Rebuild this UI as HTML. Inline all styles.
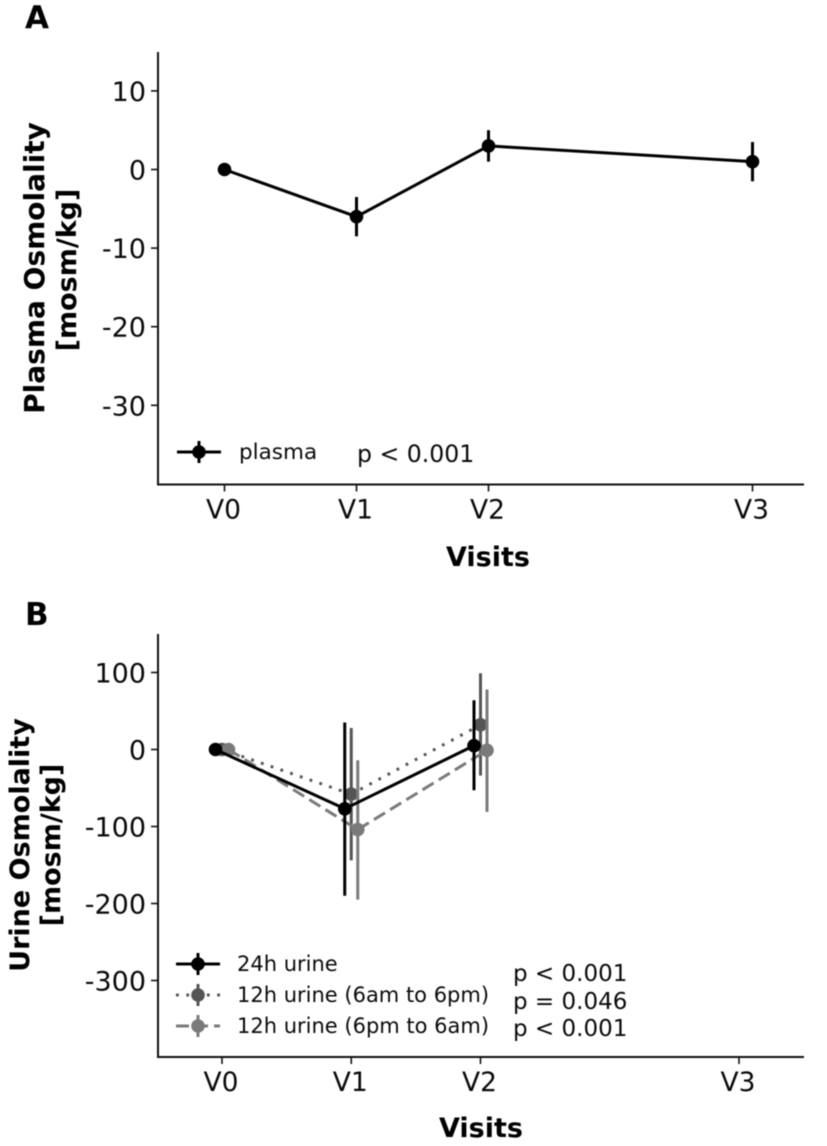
<!DOCTYPE html>
<html>
<head>
<meta charset="utf-8">
<style>
html,body{margin:0;padding:0;background:#fff;width:827px;height:1146px;overflow:hidden}
svg{display:block;filter:blur(0.5px)}
text{font-family:"DejaVu Sans",sans-serif;fill:#0a0a0a}
.b{font-weight:bold;fill:#000}
</style>
</head>
<body>
<svg id="fig" width="827" height="1146" viewBox="0 0 827 1146" xmlns="http://www.w3.org/2000/svg"></svg>
<script>
const visitLabels = ['V0','V1','V2','V3'];
const visitPositions = [0,1,2,4];

const plasmaTicks = [10,0,-10,-20,-30];
const plasmaVisits = [0,1,2,3];
const plasmaMean = [0,-6,3,1];
const plasmaLow = [0,-8.5,1,-1.5];
const plasmaHigh = [0,-3.5,5,3.5];

const urineTicks = [100,0,-100,-200,-300];
const urineVisits = [0,1,2];
const urine24Mean = [0,-77,5];
const urine24Low = [0,-190,-53];
const urine24High = [0,35,64];
const urineDayMean = [0,-58,32];
const urineDayLow = [0,-144,-34];
const urineDayHigh = [0,28,99];
const urineNightMean = [0,-104,-1];
const urineNightLow = [0,-195,-81];
const urineNightHigh = [0,-14,78];

const svg = document.getElementById('fig');
const NS = 'http://www.w3.org/2000/svg';
function mk(tag, attrs, txt){
  const e = document.createElementNS(NS, tag);
  for(const k in attrs) e.setAttribute(k, attrs[k]);
  if(txt !== undefined) e.textContent = txt;
  svg.appendChild(e);
  return e;
}
function line(x1,y1,x2,y2,color,w,name,dash){
  const a = {x1,y1,x2,y2,stroke:color,'stroke-width':w};
  if(dash) a['stroke-dasharray'] = dash;
  const e = mk('line', a);
  
  
  return e;
}
function label(x,y,s,size,name,opts){
  const e = mk('text', Object.assign({x,y,'font-size':size}, opts||{}), s);
  
  
  return e;
}

function drawAxes(p, prefix){
  line(p.left,p.top,p.left,p.bottom+1,'#111',2,prefix+'-y-axis');
  line(p.left-1,p.bottom,p.right,p.bottom,'#111',2,prefix+'-x-axis');
  p.yTicks.forEach(t=>{
    const y = p.sy(t);
    line(p.left-7,y,p.left,y,'#111',1.6,prefix+'-y-tick');
    label(p.left-12,y+10,String(t),27,prefix+'-y-tick-label',{'text-anchor':'end'});
  });
  visitLabels.forEach((v,i)=>{
    const x = p.sx(visitPositions[i]);
    line(x,p.bottom,x,p.bottom+7,'#111',1.6,prefix+'-x-tick');
    label(x-1,p.bottom+34,v,26.5,prefix+'-x-tick-label',{'text-anchor':'middle'});
  });
}
function drawSeries(p, visits, mean, low, high, offset, color, dash, name){
  const px = i => p.sx(visitPositions[visits[i]]) + offset;
  for(let i=0;i<visits.length-1;i++){
    line(px(i),p.sy(mean[i]),px(i+1),p.sy(mean[i+1]),color,3,name+'-line',dash);
  }
  visits.forEach((v,i)=>{
    if(low[i] !== high[i]) line(px(i),p.sy(low[i]),px(i),p.sy(high[i]),color,3,name+'-error-bar');
  });
  visits.forEach((v,i)=>{
    const c = mk('circle',{cx:px(i),cy:p.sy(mean[i]),r:6.8,fill:color});
    
    
  });
}
function legendEntry(x0,x1,y,color,dash,s,size,tx,name){
  line(x0,y,x1,y,color,3,name+'-line',dash);
  const cx=(x0+x1)/2;
  line(cx,y-11,cx,y+11,color,3,name+'-error');
  const c = mk('circle',{cx,cy:y,r:6.8,fill:color});
  
  
  label(tx,y+7,s,size,name+'-label');
}

/* Panel A */
const A = {left:158,right:804,top:52,bottom:484.5,yTicks:plasmaTicks,
  sx:v=>224.5+132*v, sy:d=>169.5-7.86*d};
label(25,28,'A',31,'panel-a-label',{class:'b'});
drawAxes(A,'plasma');
drawSeries(A,plasmaVisits,plasmaMean,plasmaLow,plasmaHigh,0,'#000',null,'plasma');
legendEntry(177,221,452,'#000',null,'plasma',21.5,239,'legend-plasma');
label(357,462,'p < 0.001',23.6,'plasma-p-value');
label(488,566,'Visits',27,'plasma-x-axis-title',{class:'b','text-anchor':'middle'});
label(0,0,'Plasma Osmolality',28,'plasma-y-axis-title',{class:'b','text-anchor':'middle',transform:'translate(44,268) rotate(-90)'});
label(0,0,'[mosm/kg]',27,'plasma-y-axis-unit',{class:'b','text-anchor':'middle',transform:'translate(76,270) rotate(-90)'});

/* Panel B */
const B = {left:158,right:804,top:634,bottom:1057,yTicks:urineTicks,
  sx:v=>222+129.25*v, sy:d=>749.5-0.77*d};
label(25,625,'B',31,'panel-b-label',{class:'b'});
drawAxes(B,'urine');
drawSeries(B,urineVisits,urineDayMean,urineDayLow,urineDayHigh,0,'#555','2.8 7.5','urine-12h-day');
drawSeries(B,urineVisits,urineNightMean,urineNightLow,urineNightHigh,6.5,'#7a7a7a','13 6','urine-12h-night');
drawSeries(B,urineVisits,urine24Mean,urine24Low,urine24High,-6.5,'#000',null,'urine-24h');
legendEntry(176,220,964,'#000',null,'24h urine',21,237,'legend-24h');
legendEntry(176,220,995,'#555','2.8 7.5','12h urine (6am to 6pm)',21,237,'legend-12h-day');
legendEntry(176,220,1026,'#7a7a7a','13 6','12h urine (6pm to 6am)',21,237,'legend-12h-night');
label(513,981,'p < 0.001',23,'urine-24h-p-value');
label(513,1009,'p = 0.046',23,'urine-day-p-value');
label(513,1036,'p < 0.001',23,'urine-night-p-value');
label(481,1137,'Visits',27,'urine-x-axis-title',{class:'b','text-anchor':'middle'});
label(0,0,'Urine Osmolality',27,'urine-y-axis-title',{class:'b','text-anchor':'middle',transform:'translate(29,845) rotate(-90)'});
label(0,0,'[mosm/kg]',27,'urine-y-axis-unit',{class:'b','text-anchor':'middle',transform:'translate(60,845) rotate(-90)'});
</script>
</body>
</html>
